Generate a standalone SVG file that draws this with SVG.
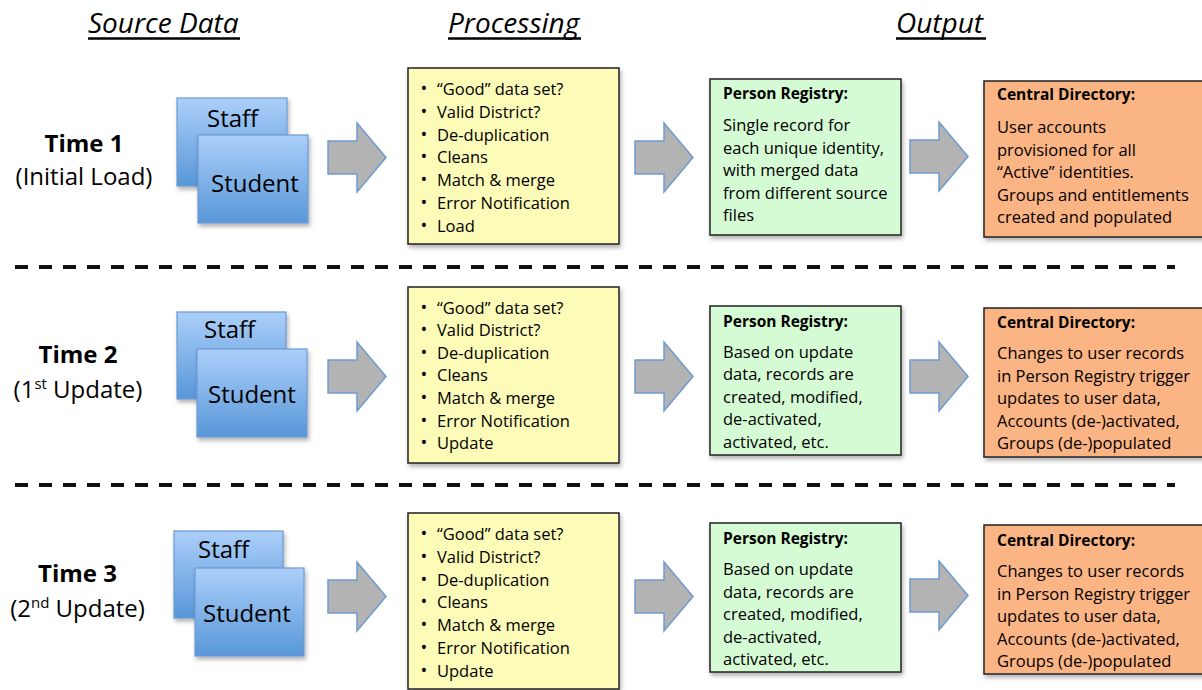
<svg xmlns="http://www.w3.org/2000/svg" xmlns:xlink="http://www.w3.org/1999/xlink" width="1202" height="690" viewBox="0 0 1202 690">
<style>
text{font-family:"Open Sans","Noto Sans",sans-serif;fill:#000}
.hdr{font-size:28px;font-style:italic}
.uline{stroke:#000;stroke-width:2.6}
.time{font-size:24px;font-weight:bold;text-anchor:middle}
.sub{font-size:24px;text-anchor:middle}
.src{font-size:24px}
.b{font-size:16.5px}
.bul{font-size:18px;text-anchor:middle}
.ttl{font-size:15.5px;font-weight:bold}
.blue{fill:url(#bg);stroke:#6d9ad3;stroke-width:1.2}
.yel{fill:#fdfbb8;stroke:#222;stroke-width:1.5}
.grn{fill:#d5fbd5;stroke:#222;stroke-width:1.5}
.org{fill:#fbb483;stroke:#222;stroke-width:1.5}
.arr{fill:#b3b3b3;stroke:#6d9ad3;stroke-width:1.5}
.sep{stroke:#111;stroke-width:4;stroke-dasharray:13 11;fill:none}
</style>
<defs>
<linearGradient id="bg" x1="0" y1="0" x2="0" y2="1">
<stop offset="0" stop-color="#accffa"/>
<stop offset="1" stop-color="#5897d8"/>
</linearGradient>
<filter id="sh" x="-10%" y="-10%" width="130%" height="130%">
<feDropShadow dx="1.5" dy="3" stdDeviation="2" flood-color="#000" flood-opacity="0.3"/>
</filter>
<path id="arrow" class="arr" d="M0,18 H29 V0 L58,34.5 L29,69 V51 H0 Z"/>
</defs>
<rect width="1202" height="690" fill="#fff"/>

<g id="headers">
<text class="hdr" x="88" y="33">Source Data</text>
<line class="uline" x1="88" y1="38.5" x2="240" y2="38.5"/>
<text class="hdr" x="448" y="33">Processing</text>
<line class="uline" x1="448" y1="38.5" x2="581" y2="38.5"/>
<text class="hdr" x="896" y="33">Output</text>
<line class="uline" x1="896" y1="38.5" x2="986" y2="38.5"/>
</g>

<g id="separators">
<line class="sep" x1="15" y1="267" x2="1175" y2="267"/>
<line class="sep" x1="15" y1="485" x2="1175" y2="485"/>
</g>

<g id="connectors">
<use xlink:href="#arrow" x="328" y="123"/>
<use xlink:href="#arrow" x="635" y="123"/>
<use xlink:href="#arrow" x="910" y="122"/>
<use xlink:href="#arrow" x="328" y="342"/>
<use xlink:href="#arrow" x="635" y="342"/>
<use xlink:href="#arrow" x="910" y="342"/>
<use xlink:href="#arrow" x="328" y="562"/>
<use xlink:href="#arrow" x="635" y="562"/>
<use xlink:href="#arrow" x="910" y="561"/>
</g>

<!-- Row 1 -->
<g id="time1">
<text class="time" x="84" y="152">Time 1</text>
<text class="sub" x="84" y="185">(Initial Load)</text>
</g>
<g id="src1">
<rect class="blue" x="177" y="98" width="110" height="88" filter="url(#sh)"/>
<text class="src" x="207" y="127">Staff</text>
<rect class="blue" x="198" y="135" width="110" height="88" filter="url(#sh)"/>
<text class="src" x="211" y="192">Student</text>
</g>
<g id="proc1">
<rect class="yel" x="408" y="68" width="211" height="176" filter="url(#sh)"/>
<text class="bul" x="424" y="95">•</text><text class="b" x="437" y="95">“Good” data set?</text>
<text class="bul" x="424" y="117.8">•</text><text class="b" x="437" y="117.8">Valid District?</text>
<text class="bul" x="424" y="140.6">•</text><text class="b" x="437" y="140.6">De-duplication</text>
<text class="bul" x="424" y="163.4">•</text><text class="b" x="437" y="163.4">Cleans</text>
<text class="bul" x="424" y="186.2">•</text><text class="b" x="437" y="186.2">Match &amp; merge</text>
<text class="bul" x="424" y="209">•</text><text class="b" x="437" y="209">Error Notification</text>
<text class="bul" x="424" y="231.8">•</text><text class="b" x="437" y="231.8">Load</text>
</g>
<g id="registry1">
<rect class="grn" x="710" y="79" width="191" height="156" filter="url(#sh)"/>
<text class="ttl" x="723" y="99">Person Registry:</text>
<text class="b" x="723" y="131">Single record for</text>
<text class="b" x="723" y="153.5">each unique identity,</text>
<text class="b" x="723" y="176">with merged data</text>
<text class="b" x="723" y="198.5">from different source</text>
<text class="b" x="723" y="221">files</text>
</g>
<g id="directory1">
<rect class="org" x="984" y="81" width="230" height="156" filter="url(#sh)"/>
<text class="ttl" x="997" y="100">Central Directory:</text>
<text class="b" x="997" y="133">User accounts</text>
<text class="b" x="997" y="155.5">provisioned for all</text>
<text class="b" x="997" y="178">“Active” identities.</text>
<text class="b" x="997" y="200.5">Groups and entitlements</text>
<text class="b" x="997" y="223">created and populated</text>
</g>

<!-- Row 2 -->
<g id="time2">
<text class="time" x="78" y="363">Time 2</text>
<text class="sub" x="78" y="398">(1<tspan font-size="15" dy="-9">st</tspan><tspan dy="9"> Update)</tspan></text>
</g>
<g id="src2">
<rect class="blue" x="177" y="312" width="109" height="87" filter="url(#sh)"/>
<text class="src" x="204" y="338">Staff</text>
<rect class="blue" x="197" y="349" width="110" height="88" filter="url(#sh)"/>
<text class="src" x="208" y="403">Student</text>
</g>
<g id="proc2">
<rect class="yel" x="408" y="287" width="211" height="176" filter="url(#sh)"/>
<text class="bul" x="424" y="313.5">•</text><text class="b" x="437" y="313.5">“Good” data set?</text>
<text class="bul" x="424" y="336.1">•</text><text class="b" x="437" y="336.1">Valid District?</text>
<text class="bul" x="424" y="358.7">•</text><text class="b" x="437" y="358.7">De-duplication</text>
<text class="bul" x="424" y="381.3">•</text><text class="b" x="437" y="381.3">Cleans</text>
<text class="bul" x="424" y="403.9">•</text><text class="b" x="437" y="403.9">Match &amp; merge</text>
<text class="bul" x="424" y="426.5">•</text><text class="b" x="437" y="426.5">Error Notification</text>
<text class="bul" x="424" y="449.1">•</text><text class="b" x="437" y="449.1">Update</text>
</g>
<g id="registry2">
<rect class="grn" x="710" y="306" width="191" height="149" filter="url(#sh)"/>
<text class="ttl" x="723" y="327">Person Registry:</text>
<text class="b" x="723" y="357.5">Based on update</text>
<text class="b" x="723" y="380">data, records are</text>
<text class="b" x="723" y="402.5">created, modified,</text>
<text class="b" x="723" y="425">de-activated,</text>
<text class="b" x="723" y="447.5">activated, etc.</text>
</g>
<g id="directory2">
<rect class="org" x="984" y="308" width="230" height="149" filter="url(#sh)"/>
<text class="ttl" x="997" y="328">Central Directory:</text>
<text class="b" x="997" y="359">Changes to user records</text>
<text class="b" x="997" y="381.5">in Person Registry trigger</text>
<text class="b" x="997" y="404">updates to user data,</text>
<text class="b" x="997" y="426.5">Accounts (de-)activated,</text>
<text class="b" x="997" y="449">Groups (de-)populated</text>
</g>

<!-- Row 3 -->
<g id="time3">
<text class="time" x="77.5" y="582">Time 3</text>
<text class="sub" x="77.5" y="617">(2<tspan font-size="15" dy="-9">nd</tspan><tspan dy="9"> Update)</tspan></text>
</g>
<g id="src3">
<rect class="blue" x="174" y="531" width="109" height="87" filter="url(#sh)"/>
<text class="src" x="198" y="558">Staff</text>
<rect class="blue" x="195" y="568" width="109" height="88" filter="url(#sh)"/>
<text class="src" x="203" y="622">Student</text>
</g>
<g id="proc3">
<rect class="yel" x="408" y="513" width="211" height="176" filter="url(#sh)"/>
<text class="bul" x="424" y="540">•</text><text class="b" x="437" y="540">“Good” data set?</text>
<text class="bul" x="424" y="562.8">•</text><text class="b" x="437" y="562.8">Valid District?</text>
<text class="bul" x="424" y="585.6">•</text><text class="b" x="437" y="585.6">De-duplication</text>
<text class="bul" x="424" y="608.4">•</text><text class="b" x="437" y="608.4">Cleans</text>
<text class="bul" x="424" y="631.2">•</text><text class="b" x="437" y="631.2">Match &amp; merge</text>
<text class="bul" x="424" y="654">•</text><text class="b" x="437" y="654">Error Notification</text>
<text class="bul" x="424" y="676.8">•</text><text class="b" x="437" y="676.8">Update</text>
</g>
<g id="registry3">
<rect class="grn" x="710" y="523" width="191" height="149" filter="url(#sh)"/>
<text class="ttl" x="723" y="544">Person Registry:</text>
<text class="b" x="723" y="575">Based on update</text>
<text class="b" x="723" y="597.5">data, records are</text>
<text class="b" x="723" y="620">created, modified,</text>
<text class="b" x="723" y="642.5">de-activated,</text>
<text class="b" x="723" y="665">activated, etc.</text>
</g>
<g id="directory3">
<rect class="org" x="984" y="525" width="230" height="149" filter="url(#sh)"/>
<text class="ttl" x="997" y="546">Central Directory:</text>
<text class="b" x="997" y="577">Changes to user records</text>
<text class="b" x="997" y="599.5">in Person Registry trigger</text>
<text class="b" x="997" y="622">updates to user data,</text>
<text class="b" x="997" y="644.5">Accounts (de-)activated,</text>
<text class="b" x="997" y="667">Groups (de-)populated</text>
</g>
</svg>
